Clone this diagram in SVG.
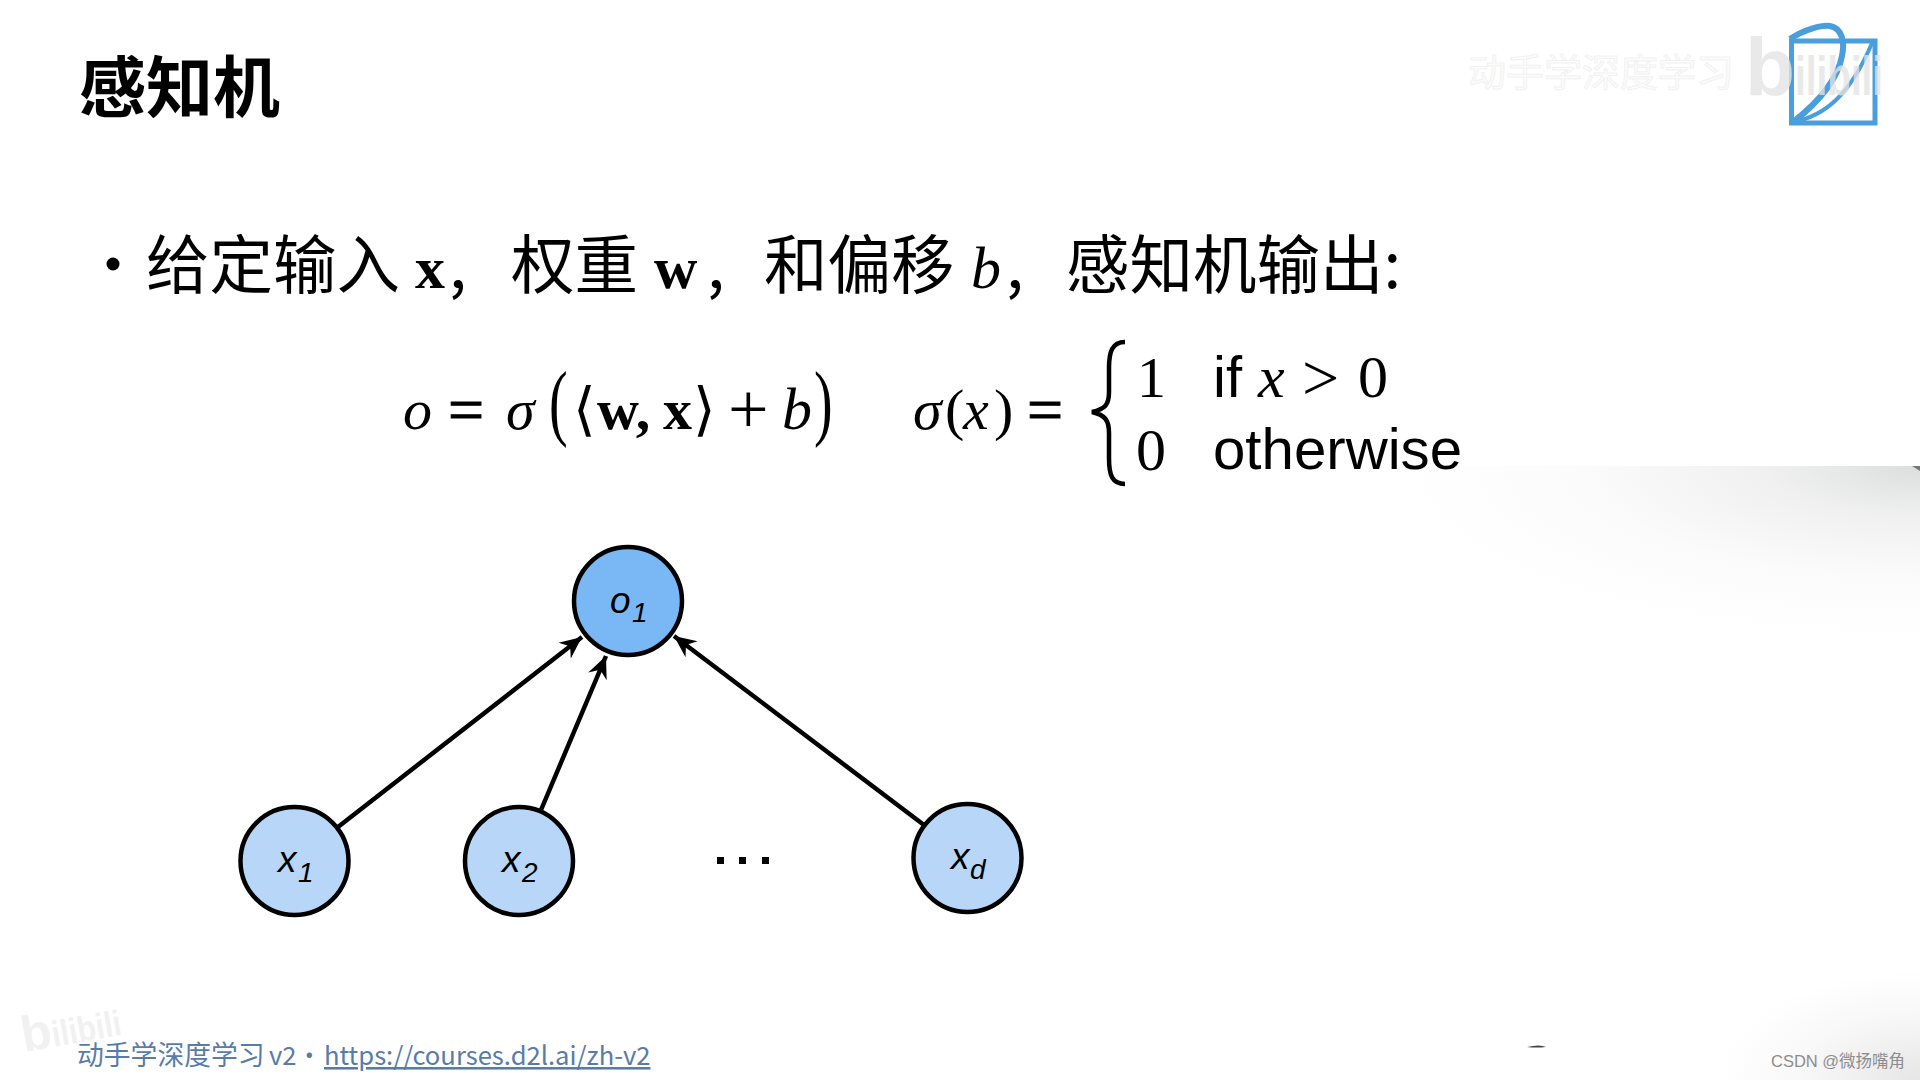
<svg xmlns="http://www.w3.org/2000/svg" width="1920" height="1080" viewBox="0 0 1920 1080">
<defs>
<marker id="arr" viewBox="0 0 26 22" refX="24" refY="11" markerWidth="26" markerHeight="22" markerUnits="userSpaceOnUse" orient="auto"><path d="M2 1 L24 11 L2 21 L9 11 Z" fill="#000"/></marker>
<radialGradient id="fadeTop" gradientUnits="userSpaceOnUse" cx="0" cy="0" r="1" gradientTransform="translate(1920 466) scale(520 170)"><stop offset="0" stop-color="#dcdede"/><stop offset="0.3" stop-color="#f0f0f0"/><stop offset="0.65" stop-color="#fbfbfb"/><stop offset="1" stop-color="#fff"/></radialGradient>
<radialGradient id="fadeBot" gradientUnits="userSpaceOnUse" cx="0" cy="0" r="1" gradientTransform="translate(1920 1080) scale(200 110)"><stop offset="0" stop-color="#e6e6e6"/><stop offset="0.6" stop-color="#f8f8f8"/><stop offset="1" stop-color="#fff"/></radialGradient>
</defs>
<style>
.cjk{font-family:"Noto Sans CJK SC","Liberation Sans",sans-serif}
.s{font-family:"Liberation Serif",serif}
.i{font-family:"Liberation Serif",serif;font-style:italic}
.b{font-family:"Liberation Serif",serif;font-weight:700}
.a{font-family:"Liberation Sans",sans-serif}
.n{fill:#000;font-family:"Liberation Sans",sans-serif;font-style:italic}
.c{stroke:#000;stroke-width:4.5}
.e{stroke:#000;stroke-width:4.5;fill:none;marker-end:url(#arr)}
.eq{stroke:#000;stroke-width:1}
.ft{fill:#587ca8}
</style>
<rect width="1920" height="1080" fill="#fff"/>
<rect x="1400" y="466" width="520" height="170" fill="url(#fadeTop)"/>
<rect x="1720" y="970" width="200" height="110" fill="url(#fadeBot)"/>
<path d="M1912 466 H1920 V471 Z" fill="#777"/>
<text class="cjk" x="79" y="112" font-size="67" font-weight="700">感知机</text>
<circle cx="113" cy="264" r="6.500"/>
<text class="cjk" x="146" y="288" font-size="63.500">给定输入</text>
<text class="b" x="415" y="288" font-size="60">x</text>
<text class="cjk" x="449" y="288" font-size="63.500">,</text>
<text class="cjk" x="511" y="288" font-size="63.500">权重</text>
<text class="b" x="654" y="288" font-size="60">w</text>
<text class="cjk" x="707" y="288" font-size="63.500">,</text>
<text class="cjk" x="764" y="288" font-size="63.500">和偏移</text>
<text class="i" x="971" y="288" font-size="60">b</text>
<text class="cjk" x="1006" y="288" font-size="63.500">,</text>
<text class="cjk" x="1066" y="288" font-size="63.500">感知机输出:</text>
<g id="formula-left">
<text class="i" x="403" y="429" font-size="58">o</text>
<text class="s eq" x="448" y="431" font-size="64">=</text>
<text class="i" x="506" y="429" font-size="58">σ</text>
<text class="s" transform="translate(549 430) scale(1 1.5)" font-size="56">(</text>
<text class="s" x="573" y="429" font-size="58">⟨</text>
<text class="b" x="597" y="429" font-size="58">w,</text>
<text class="b" x="663" y="429" font-size="58">x</text>
<text class="s" x="693" y="429" font-size="58">⟩</text>
<text class="s" x="728" y="433" font-size="72">+</text>
<text class="i" x="782" y="429" font-size="60">b</text>
<text class="s" transform="translate(814 430) scale(1 1.5)" font-size="56">)</text>
</g>
<g id="formula-right">
<text class="i" x="913" y="429" font-size="58">σ</text>
<text class="s" x="945" y="429" font-size="58">(</text>
<text class="i" x="963" y="429" font-size="58">x</text>
<text class="s" x="994" y="429" font-size="58">)</text>
<text class="s eq" x="1027" y="431" font-size="64">=</text>
<path d="M1125 342 C1112 342 1109 352 1109 368 V392 C1109 405 1105 409 1092 412 C1105 415 1109 420 1109 433 V458 C1109 475 1112 484 1125 484" fill="none" stroke="#000" stroke-width="4.500"/>
<text class="s" x="1137" y="397" font-size="58">1</text>
<text class="a" x="1213" y="397" font-size="58">if</text>
<text class="i" x="1258" y="397" font-size="60">x</text>
<text class="s" x="1302" y="400" font-size="66">&gt;</text>
<text class="s" x="1358" y="397" font-size="60">0</text>
<text class="s" x="1136" y="470" font-size="60">0</text>
<text class="a" x="1213" y="469" font-size="58.200">otherwise</text>
</g>
<g id="connectors">
<line class="e" x1="338" y1="827" x2="582" y2="637"/>
<line class="e" x1="541" y1="810" x2="606" y2="656"/>
<line class="e" x1="924" y1="825" x2="674" y2="636"/>
</g>
<g id="node-o1"><circle class="c" cx="628" cy="601" r="54" fill="#7ab8f5"/><text class="n" x="610" y="613" font-size="37">o</text><text class="n" x="632" y="622" font-size="28">1</text></g>
<g id="node-x1"><circle class="c" cx="294.500" cy="861" r="54" fill="#b8d6f8"/><text class="n" x="278" y="872" font-size="37">x</text><text class="n" x="298" y="882" font-size="28">1</text></g>
<g id="node-x2"><circle class="c" cx="519" cy="861" r="54" fill="#b8d6f8"/><text class="n" x="502" y="872" font-size="37">x</text><text class="n" x="522" y="882" font-size="28">2</text></g>
<g id="node-xd"><circle class="c" cx="967.500" cy="858" r="54" fill="#b8d6f8"/><text class="n" x="951" y="869" font-size="37">x</text><text class="n" x="970" y="879" font-size="28">d</text></g>
<g id="ellipsis" fill="#000"><rect x="717" y="857" width="7" height="7"/><rect x="739" y="857" width="7" height="7"/><rect x="762" y="857" width="7" height="7"/></g>
<g id="logo" fill="none" stroke="#4a9edb"><rect x="1791.500" y="41" width="83.500" height="82" stroke-width="5"/><path d="M1790 39 C1805 29 1822 25 1830 26 C1842 28 1845 42 1842 56 C1837 82 1815 105 1793 122" stroke-width="6"/><path d="M1793 122 C1825 116 1850 95 1872 43" stroke-width="4"/></g>
<text class="cjk" x="1468" y="86" font-size="38" fill="#fcfcfc" stroke="#f2f2f2" stroke-width="1">动手学深度学习</text>
<text class="a" font-weight="700" fill="#e3e3e3" fill-opacity=".8" y="95"><tspan x="1745" font-size="82">b</tspan><tspan font-size="56" textLength="88" lengthAdjust="spacingAndGlyphs">ilibili</tspan></text>
<text class="a" transform="translate(24 1052) rotate(-10)" font-weight="700" fill="#f1f1f1"><tspan font-size="50">b</tspan><tspan font-size="36" textLength="70" lengthAdjust="spacingAndGlyphs">ilibili</tspan></text>
<text x="77" y="1065" font-size="26.800" class="cjk ft">动手学深度学习</text>
<text x="269" y="1065" font-size="25.600" class="cjk ft">v2・</text>
<text x="324" y="1065" font-size="25.600" class="cjk ft" text-decoration="underline">https://courses.d2l.ai/zh-v2</text>
<text x="1771" y="1067" font-size="16.500" fill="#8c8c8c" font-family="Liberation Sans, Noto Sans CJK SC, sans-serif">CSDN @微扬嘴角</text>
<path d="M1527 1047 Q1540 1044 1546 1047 Q1536 1048 1527 1047Z" fill="#444"/>
</svg>
